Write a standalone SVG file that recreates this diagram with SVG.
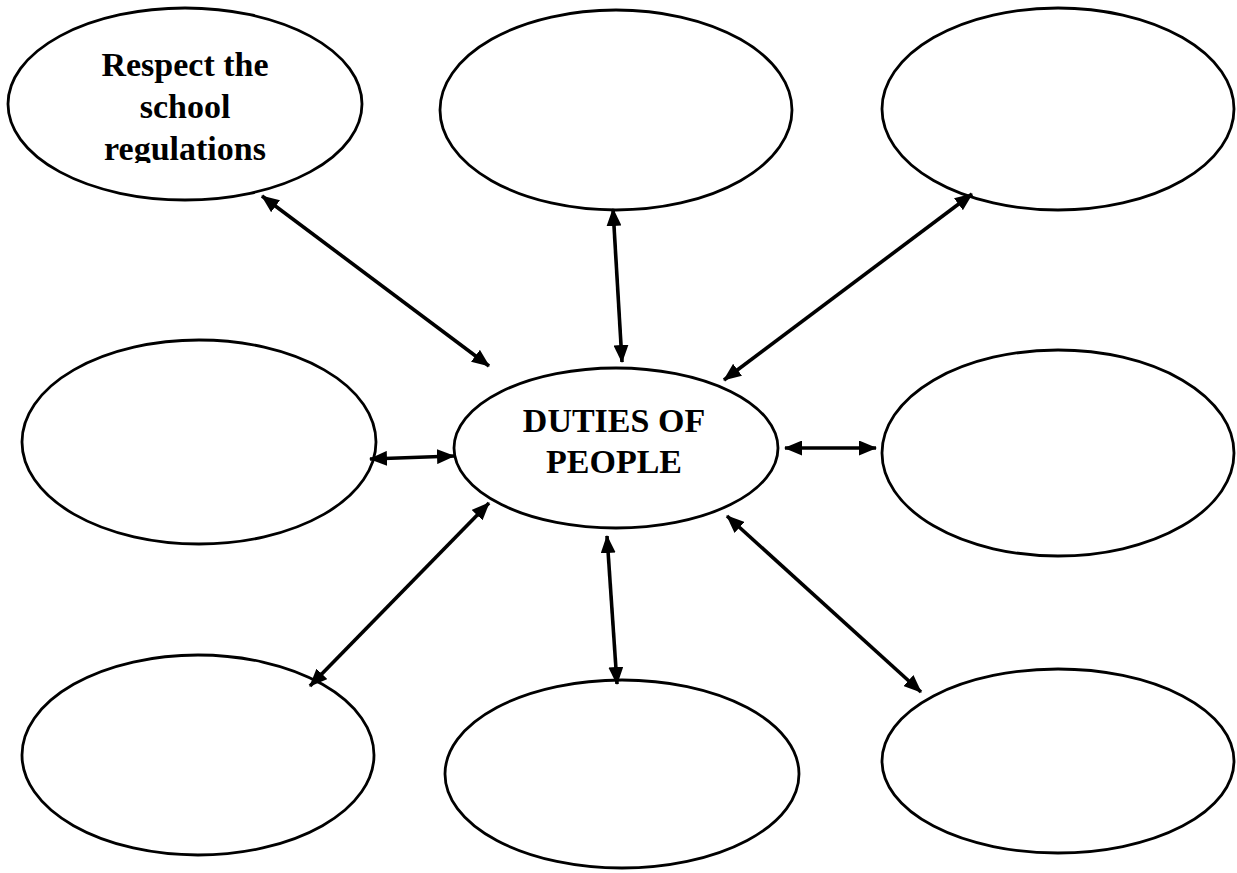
<svg xmlns="http://www.w3.org/2000/svg" width="1237" height="873" viewBox="0 0 1237 873">
<style>
.node{fill:#fff;stroke:#000;stroke-width:2.8}
.lbl{font-family:"Liberation Serif","Times New Roman",serif;font-weight:bold;font-size:34px;fill:#000;text-anchor:middle}
.conn{stroke:#000;stroke-width:3.6;fill:none;marker-start:url(#ah);marker-end:url(#ah)}
</style>
<defs>
<marker id="ah" viewBox="0 0 18 15" refX="17" refY="7.5" markerWidth="18" markerHeight="15" markerUnits="userSpaceOnUse" orient="auto-start-reverse">
<path d="M0,0 L18,7.5 L0,15 Z" fill="#000"/>
</marker>
<clipPath id="clipTL"><rect x="0" y="0" width="400" height="163"/></clipPath>
</defs>
<rect width="1237" height="873" fill="#fff"/>
<g id="node-tl"><ellipse class="node" cx="185" cy="104" rx="177" ry="96"/>
<g clip-path="url(#clipTL)"><text class="lbl" x="185" y="76">Respect the</text><text class="lbl" x="185" y="118">school</text><text class="lbl" x="185" y="160">regulations</text></g></g>
<g id="node-tm"><ellipse class="node" cx="616" cy="110" rx="176" ry="100"/></g>
<g id="node-tr"><ellipse class="node" cx="1058" cy="109" rx="176" ry="101"/></g>
<g id="node-ml"><ellipse class="node" cx="199" cy="442" rx="177" ry="102"/></g>
<g id="node-center"><ellipse class="node" cx="616" cy="448" rx="162" ry="80"/>
<text class="lbl" x="614" y="432">DUTIES OF</text><text class="lbl" x="614" y="473">PEOPLE</text></g>
<g id="node-mr"><ellipse class="node" cx="1058" cy="453" rx="176" ry="103"/></g>
<g id="node-bl"><ellipse class="node" cx="198" cy="755" rx="176" ry="100"/></g>
<g id="node-bm"><ellipse class="node" cx="622" cy="774" rx="177" ry="94"/></g>
<g id="node-br"><ellipse class="node" cx="1058" cy="761" rx="176" ry="92"/></g>
<g id="connectors">
<line class="conn" x1="262" y1="196" x2="489" y2="366"/>
<line class="conn" x1="613" y1="209" x2="622" y2="362"/>
<line class="conn" x1="972" y1="194" x2="724" y2="380"/>
<line class="conn" x1="370" y1="459" x2="454" y2="456"/>
<line class="conn" x1="785" y1="448" x2="876" y2="448"/>
<line class="conn" x1="489" y1="503" x2="310" y2="686"/>
<line class="conn" x1="607" y1="536" x2="617" y2="684"/>
<line class="conn" x1="727" y1="516" x2="921" y2="692"/>
</g>
</svg>
